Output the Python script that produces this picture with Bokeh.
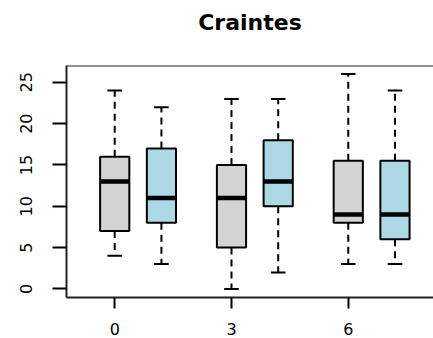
from bokeh.plotting import figure
from bokeh.models import Range1d, FixedTicker, Span, ColumnDataSource, Title
from bokeh.embed import file_html
from bokeh.resources import INLINE

# ---- data ----
title_text = "Craintes"
groups = ["0", "3", "6"]
group_pos = [0, 1, 2]

gray_low = [4, 0, 3]
gray_q1 = [7, 5, 8]
gray_med = [13, 11, 9]
gray_q3 = [16, 15, 15.5]
gray_high = [24, 23, 26]

blue_low = [3, 2, 3]
blue_q1 = [8, 10, 6]
blue_med = [11, 13, 9]
blue_q3 = [17, 18, 15.5]
blue_high = [22, 23, 24]

y_ticks = [0, 5, 10, 15, 20, 25]

# ---- styling ----
BOX_W = 0.25
CAP_W = 0.125
BLUE_OFFSET = 0.4
FONT = "DejaVu Sans"

p = figure(width=433, height=338, output_backend="svg", toolbar_location=None,
           x_range=Range1d(-0.413, 2.73), y_range=Range1d(-1.04, 27.04),
           min_border_left=66, min_border_right=0, min_border_top=65,
           min_border_bottom=41)
p.background_fill_color = "white"
p.border_fill_color = "white"
p.outline_line_color = None
p.grid.visible = False

# spacer between the frame and the title (first added = closest to the frame)
p.add_layout(Title(text=" ", text_font=FONT, text_font_size="22px",
                   standoff=4), "above")
# main title
p.add_layout(Title(text=title_text, text_font=FONT, text_font_style="bold",
                   text_font_size="22px", align="center", text_color="black",
                   standoff=0), "above")


def draw_boxes(xs, low, q1, med, q3, high, fill):
    src = ColumnDataSource(dict(
        x=xs,
        left=[x - BOX_W / 2 for x in xs],
        right=[x + BOX_W / 2 for x in xs],
        cl=[x - CAP_W / 2 for x in xs],
        cr=[x + CAP_W / 2 for x in xs],
        low=low, q1=q1, med=med, q3=q3, high=high,
    ))
    # whiskers (dashed)
    p.segment(x0="x", y0="q3", x1="x", y1="high", source=src,
              line_color="black", line_width=2, line_dash="7 5")
    p.segment(x0="x", y0="q1", x1="x", y1="low", source=src,
              line_color="black", line_width=2, line_dash="7 5")
    # caps
    p.segment(x0="cl", y0="high", x1="cr", y1="high", source=src,
              line_color="black", line_width=2)
    p.segment(x0="cl", y0="low", x1="cr", y1="low", source=src,
              line_color="black", line_width=2)
    # boxes
    p.quad(left="left", right="right", bottom="q1", top="q3", source=src,
           fill_color=fill, line_color="black", line_width=2)
    # medians
    p.segment(x0="left", y0="med", x1="right", y1="med", source=src,
              line_color="black", line_width=4.5)


draw_boxes(group_pos, gray_low, gray_q1, gray_med, gray_q3, gray_high, "#D3D3D3")
draw_boxes([g + BLUE_OFFSET for g in group_pos], blue_low, blue_q1, blue_med,
           blue_q3, blue_high, "#ADD8E6")

# top frame line
p.add_layout(Span(location=27.04, dimension="width", line_color="#222222",
                  line_width=2))

# axes
xa = p.xaxis[0]
xa.ticker = FixedTicker(ticks=group_pos)
xa.major_label_overrides = {g: lab for g, lab in zip(group_pos, groups)}
xa.minor_tick_line_color = None
xa.major_tick_out = 11
xa.major_tick_in = 0
xa.major_tick_line_width = 2
xa.axis_line_width = 2
xa.axis_line_color = "#222222"
xa.major_label_text_font = FONT
xa.major_label_text_font_size = "16px"
xa.major_label_text_color = "black"
xa.major_label_standoff = 14

ya = p.yaxis[0]
ya.ticker = FixedTicker(ticks=y_ticks)
ya.minor_tick_line_color = None
ya.major_tick_out = 14
ya.major_tick_in = 0
ya.major_tick_line_width = 2
ya.axis_line_width = 2
ya.axis_line_color = "#222222"
ya.major_label_text_font = FONT
ya.major_label_text_font_size = "16px"
ya.major_label_text_color = "black"
ya.major_label_orientation = "vertical"
ya.major_label_standoff = 20

open("out.html", "w").write(file_html(p, INLINE))
